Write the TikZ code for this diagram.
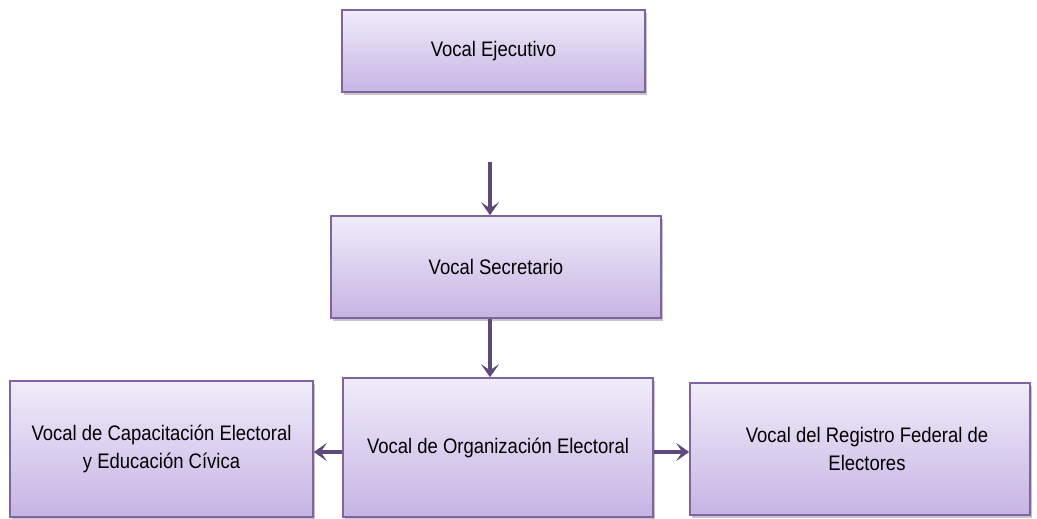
\documentclass[tikz,border=0pt]{standalone}
\usepackage{fontspec}
\setmainfont[FakeStretch=0.88]{Liberation Sans}
\usetikzlibrary{arrows.meta,shadows}
\definecolor{boxtop}{RGB}{240,236,249}
\definecolor{boxbot}{RGB}{198,180,228}
\definecolor{boxline}{RGB}{128,100,162}
\definecolor{arrowc}{RGB}{95,73,122}
\tikzset{
  orgbox/.style={rectangle, draw=boxline, line width=1.6pt, top color=boxtop, bottom color=boxbot,
    drop shadow={shadow xshift=2pt, shadow yshift=-3pt, fill=black!50, opacity=0.45},
    font=\fontsize{21}{28}\selectfont, align=center, inner sep=0pt},
  conn/.style={draw=arrowc, line width=3.5pt, -{Stealth[length=13pt,width=18pt,inset=6pt]}}
}
\begin{document}
\begin{tikzpicture}[x=1pt,y=1pt]
\useasboundingbox (0,0) rectangle (1037,-519);
\node[orgbox, minimum width=303pt, minimum height=82pt] (eje) at (493.5,-51) {\raisebox{-2pt}{Vocal Ejecutivo}};
\node[orgbox, minimum width=330pt, minimum height=102pt] (sec) at (496,-267) {\raisebox{-2pt}{Vocal Secretario}};
\node[orgbox, minimum width=310pt, minimum height=139pt] (org) at (498,-447.5) {\raisebox{-3pt}{Vocal de Organización Electoral}};
\node[orgbox, minimum width=303pt, minimum height=136pt] (cap) at (161.5,-449) {Vocal de Capacitación Electoral\\y Educación Cívica};
\node[orgbox, minimum width=340pt, minimum height=132pt] (reg) at (860,-449) {\hspace*{14pt}Vocal del Registro Federal de\\\hspace*{14pt}Electores};
\coordinate (a1) at (490,-162);
\coordinate (ay) at (0,-452);
\draw[conn] (a1) -- (a1 |- sec.north);
\draw[conn] (sec.south -| a1) -- (org.north -| a1);
\draw[conn] (org.west |- ay) -- (cap.east |- ay);
\draw[conn] (org.east |- ay) -- (reg.west |- ay);
\end{tikzpicture}
\end{document}
